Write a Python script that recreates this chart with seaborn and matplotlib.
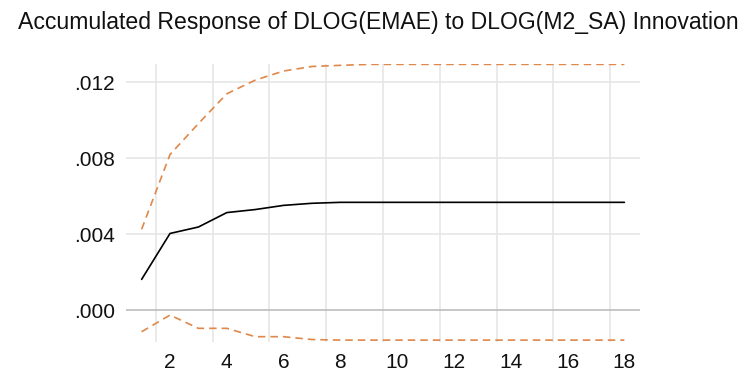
import numpy as np
import pandas as pd
import matplotlib
matplotlib.use("Agg")
import matplotlib.pyplot as plt
import seaborn as sns

periods = list(range(1, 19))
response = [0.00162, 0.00404, 0.00438, 0.00514, 0.0053, 0.00552, 0.00563, 0.00568,
            0.00568, 0.00568, 0.00568, 0.00568, 0.00568, 0.00568, 0.00568, 0.00568, 0.00568, 0.00568]
upper = [0.00426, 0.0082, 0.00983, 0.0114, 0.01212, 0.0126, 0.01284, 0.0129,
         0.01295, 0.01295, 0.01295, 0.01295, 0.01295, 0.01295, 0.01295, 0.01295, 0.01295, 0.01295]
lower = [-0.00114, -0.00026, -0.00096, -0.00096, -0.0014, -0.0014, -0.00155, -0.00158,
         -0.00158, -0.00158, -0.00158, -0.00158, -0.00158, -0.00158, -0.00158, -0.00158, -0.00158, -0.00158]
xticks = [2, 4, 6, 8, 10, 12, 14, 16, 18]
yticks = [0.000, 0.004, 0.008, 0.012]
ytick_labels = [".000", ".004", ".008", ".012"]
title = "Accumulated Response of DLOG(EMAE) to DLOG(M2_SA) Innovation"

sns.set_style("white")
plt.rcParams['font.family'] = ['Liberation Sans', 'DejaVu Sans']

df = pd.DataFrame({"period": periods, "response": response, "upper": upper, "lower": lower})

fig = plt.figure(figsize=(7.5, 3.74), dpi=100)
ax = fig.add_axes([126/750, 1-342/374, (640-126)/750, (342-64)/374])

orange = "#e0874a"
sns.lineplot(data=df, x="period", y="upper", ax=ax, color=orange, lw=1.2, linestyle=(0, (4.5, 3)))
sns.lineplot(data=df, x="period", y="lower", ax=ax, color=orange, lw=1.2, linestyle=(0, (4.5, 3)))
sns.lineplot(data=df, x="period", y="response", ax=ax, color="black", lw=1.2)

ax.set_xlim(0.45, 18.55)
ax.set_ylim(-0.00168, 0.01297)

for v in np.arange(1.5, 18, 2):
    ax.axvline(v, color="#e6e6e6", lw=1.2, zorder=0)
for v in yticks:
    ax.axhline(v, color="#bdbdbd" if v == 0 else "#e6e6e6", lw=1.2, zorder=0)

ax.set_xticks(xticks)
ax.set_xticklabels([str(t) for t in xticks])
ax.set_yticks(yticks)
ax.set_yticklabels(ytick_labels)
ax.tick_params(axis="both", length=0, labelsize=15, colors="#111111")
ax.tick_params(axis="x", pad=8)
ax.tick_params(axis="y", pad=8)
ax.set_xlabel("")
ax.set_ylabel("")
for s in ax.spines.values():
    s.set_visible(False)

fig.text(0.505, 1-23/374, title, ha="center", va="center", fontsize=16.6, color="#111111")

fig.savefig("out.png", dpi=100)
